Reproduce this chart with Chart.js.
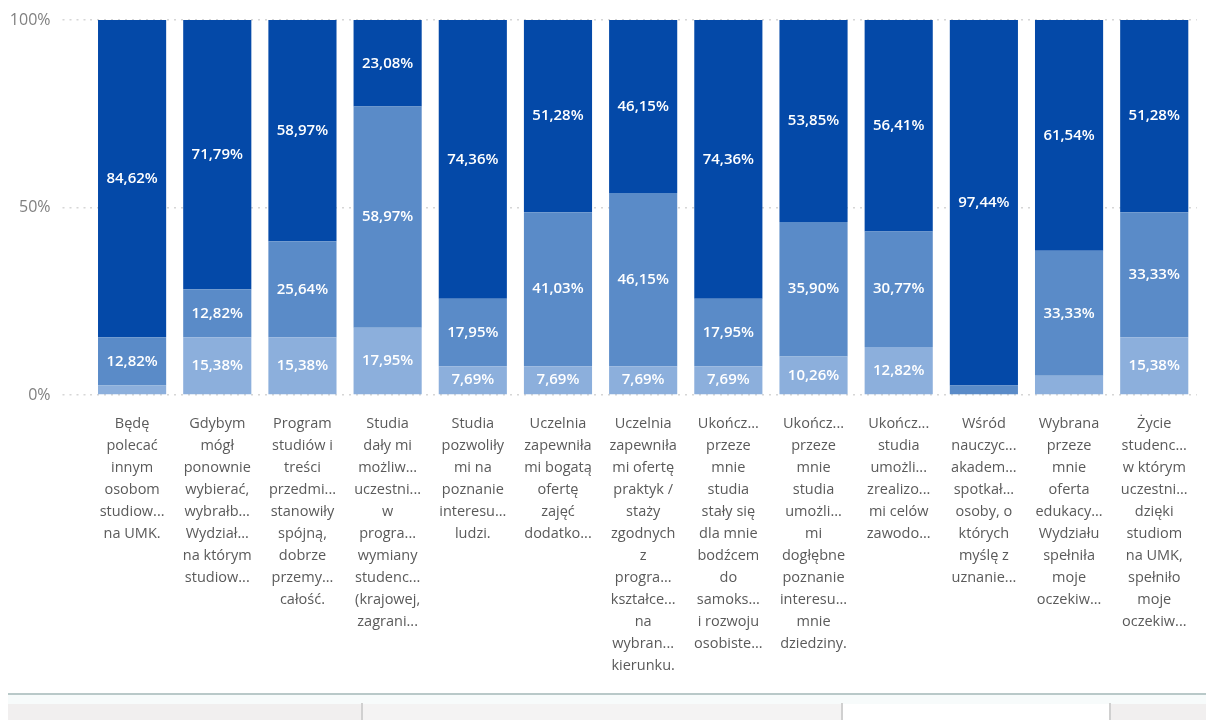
<!DOCTYPE html>
<html>
<head>
<meta charset="utf-8">
<script src="https://cdn.jsdelivr.net/npm/chart.js@4.4.1/dist/chart.umd.min.js"></script>
<style>
  html, body { margin: 0; padding: 0; background: #fff; }
  #wrap { position: relative; width: 1206px; height: 693px; }
  #bottomLine { position: absolute; left: 8px; top: 693px; width: 1198px; height: 2px; background: #b9c9c9; }
  #bottomBand { position: absolute; left: 8px; top: 695px; width: 1198px; height: 9px; background: #f7fbfb; }
  .sec { position: absolute; top: 704px; height: 16px; background: #f1efef; }
  .sep { position: absolute; top: 703px; width: 2px; height: 17px; background: #d0d0d0; }
</style>
</head>
<body>
<div id="wrap"><canvas id="stackChart"></canvas></div>
<div id="bottomLine"></div>
<div id="bottomBand"></div>
<div class="sec" style="left:8px;width:354px"></div>
<div class="sec" style="left:363px;width:479px;background:#f4f3f3"></div>
<div class="sec" style="left:843px;width:267px;background:#fff"></div>
<div class="sec" style="left:1111px;width:95px"></div>
<div class="sep" style="left:361px"></div>
<div class="sep" style="left:841px"></div>
<div class="sep" style="left:1109px"></div>
<script>
// category labels (already wrapped / truncated like in the report)
const categories = [
  ["Będę", "polecać", "innym", "osobom", "studiow...", "na UMK."],
  ["Gdybym", "mógł", "ponownie", "wybierać,", "wybrałb...", "Wydział...", "na którym", "studiow..."],
  ["Program", "studiów i", "treści", "przedmi...", "stanowiły", "spójną,", "dobrze", "przemy...", "całość."],
  ["Studia", "dały mi", "możliw...", "uczestni...", "w", "progra...", "wymiany", "studenc...", "(krajowej,", "zagrani..."],
  ["Studia", "pozwoliły", "mi na", "poznanie", "interesu...", "ludzi."],
  ["Uczelnia", "zapewniła", "mi bogatą", "ofertę", "zajęć", "dodatko..."],
  ["Uczelnia", "zapewniła", "mi ofertę", "praktyk /", "staży", "zgodnych", "z", "progra...", "kształce...", "na", "wybran...", "kierunku."],
  ["Ukończ...", "przeze", "mnie", "studia", "stały się", "dla mnie", "bodźcem", "do", "samoks...", "i rozwoju", "osobiste..."],
  ["Ukończ...", "przeze", "mnie", "studia", "umożli...", "mi", "dogłębne", "poznanie", "interesu...", "mnie", "dziedziny."],
  ["Ukończ...", "studia", "umożli...", "zrealizo...", "mi celów", "zawodo..."],
  ["Wśród", "nauczyc...", "akadem...", "spotkał...", "osoby, o", "których", "myślę z", "uznanie..."],
  ["Wybrana", "przeze", "mnie", "oferta", "edukacy...", "Wydziału", "spełniła", "moje", "oczekiw..."],
  ["Życie", "studenc...", "w którym", "uczestni...", "dzięki", "studiom", "na UMK,", "spełniło", "moje", "oczekiw..."],
];

// percentages, bottom -> top
const lowShare = [2.56, 15.38, 15.38, 17.95, 7.69, 7.69, 7.69, 7.69, 10.26, 12.82, 0, 5.13, 15.38];
const midShare = [12.82, 12.82, 25.64, 58.97, 17.95, 41.03, 46.15, 17.95, 35.9, 30.77, 2.56, 33.33, 33.33];
const topShare = [84.62, 71.79, 58.97, 23.08, 74.36, 51.28, 46.15, 74.36, 53.85, 56.41, 97.44, 61.54, 51.28];

const yTicks = [0, 50, 100];

const fmt = (v) => v.toFixed(2).replace(".", ",") + "%";

// white value labels in the middle of each segment
const segLabels = {
  id: "segLabels",
  afterDatasetsDraw(chart) {
    const ctx = chart.ctx;
    ctx.save();
    ctx.fillStyle = "#fff";
    ctx.font = "600 15px 'Open Sans'";
    ctx.textAlign = "center";
    ctx.textBaseline = "middle";
    chart.data.datasets.forEach((ds, i) => {
      chart.getDatasetMeta(i).data.forEach((bar, j) => {
        const v = ds.data[j];
        if (v < 6) return;
        ctx.fillText(fmt(v), bar.x, (bar.y + bar.base) / 2);
      });
    });
    ctx.restore();
  },
};

new Chart(document.getElementById("stackChart"), {
  type: "bar",
  data: {
    labels: categories,
    datasets: [
      { label: "low", data: lowShare, backgroundColor: "#8cafdc" },
      { label: "mid", data: midShare, backgroundColor: "#5a8bc8" },
      { label: "top", data: topShare, backgroundColor: "#0449a8" },
    ],
  },
  options: {
    responsive: true,
    maintainAspectRatio: false,
    animation: false,
    categoryPercentage: 0.8,
    barPercentage: 1,
    layout: { padding: { top: 10, right: 9, left: 0, bottom: 0 } },
    plugins: {
      legend: false,
      tooltip: { enabled: false },
    },
    scales: {
      x: {
        stacked: true,
        grid: { display: false, drawTicks: false },
        border: { display: false },
        ticks: {
          autoSkip: false,
          maxRotation: 0,
          padding: 18,
          color: "#5a5a5a",
          font: { family: "'Open Sans'", size: 14.5, lineHeight: 22 / 14.5 },
        },
        afterFit(scale) {
          scale.height = 298;
        },
      },
      y: {
        stacked: true,
        min: 0,
        max: 100,
        afterBuildTicks(scale) {
          scale.ticks = yTicks.map((v) => ({ value: v }));
        },
        grid: {
          color: "#d6d6d6",
          tickBorderDash: [2, 5],
          tickLength: 27,
          lineWidth: 1.5,
        },
        border: { display: false, dash: [2, 5] },
        ticks: {
          padding: 12,
          color: "#808080",
          font: { family: "'Open Sans'", size: 16, lineHeight: 1 },
          callback: (v) => v + "%",
        },
        afterFit(scale) {
          scale.width = 89.5;
        },
      },
    },
  },
  plugins: [segLabels],
});
</script>
</body>
</html>
